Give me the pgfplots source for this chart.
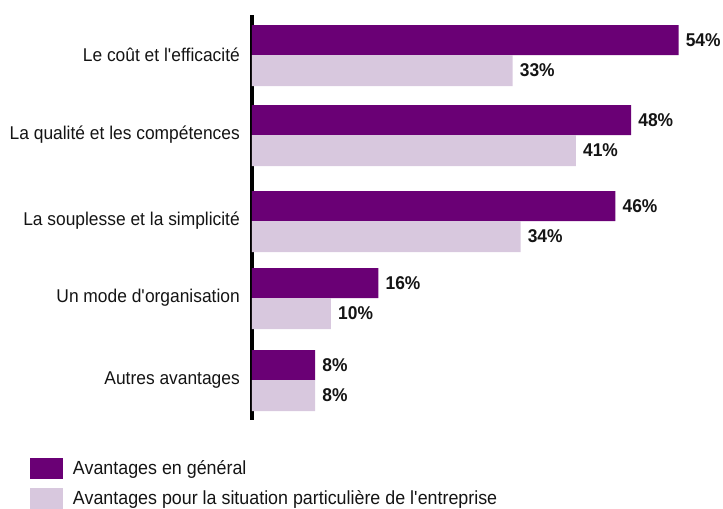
\documentclass[border=0pt]{standalone}
\usepackage{fontspec}
\setmainfont{Liberation Sans}[FakeStretch=0.94]
\usepackage{pgfplots}
\pgfplotsset{compat=1.18}
\definecolor{darkp}{RGB}{106,0,117}
\definecolor{lightp}{RGB}{216,200,222}
\definecolor{txt}{RGB}{20,20,20}
\begin{document}
\begin{tikzpicture}
\useasboundingbox (-252bp,-89bp) rectangle (471bp,420bp);
\begin{axis}[
  scale only axis, width=426.6bp, height=405bp,
  xbar, xmin=0, xmax=54, ymin=15, ymax=420, y dir=reverse,
  axis x line=none, axis y line=left,
  y axis line style={-, line width=4bp, black},
  ytick={55,135,221,298,380},
  yticklabels={Le coût et l\textquotesingle efficacité, La qualité et les compétences, La souplesse et la simplicité, Un mode d\textquotesingle organisation, Autres avantages},
  major tick length=0pt,
  yticklabel style={font=\fontsize{18.5bp}{21bp}\selectfont, text=txt, inner sep=0pt, xshift=-12bp},
  clip=false,
  point meta=x,
  /pgf/number format/assume math mode=true,
  nodes near coords={\pgfmathprintnumber{\pgfplotspointmeta}\%},
  nodes near coords style={font=\bfseries\fontsize{18.5bp}{21bp}\selectfont, text=txt, anchor=west, inner sep=0pt, xshift=7bp},
  legend image code/.code={\fill[#1,draw=none] (0bp,-10.5bp) rectangle (32.7bp,10.5bp);},
  legend style={at={(-0.5204,-0.0938)}, anchor=north west, draw=none, fill=none,
    inner sep=0pt, outer sep=0pt, row sep=9bp,
    font=\fontsize{19bp}{21bp}\selectfont, text=txt,
    nodes={inner sep=0pt, outer sep=0pt},
    /tikz/every odd column/.append style={column sep=10.3bp}},
  legend cell align=left,
]
\addplot[fill=darkp, draw=none, bar width=30, bar shift=-15] coordinates {(54,55) (48,135) (46,221) (16,298) (8,380)};
\addplot[fill=lightp, draw=none, bar width=31, bar shift=15.5] coordinates {(33,55) (41,135) (34,221) (10,298) (8,380)};
\legend{Avantages en général, Avantages pour la situation particulière de l\textquotesingle entreprise}
\end{axis}
\end{tikzpicture}
\end{document}
